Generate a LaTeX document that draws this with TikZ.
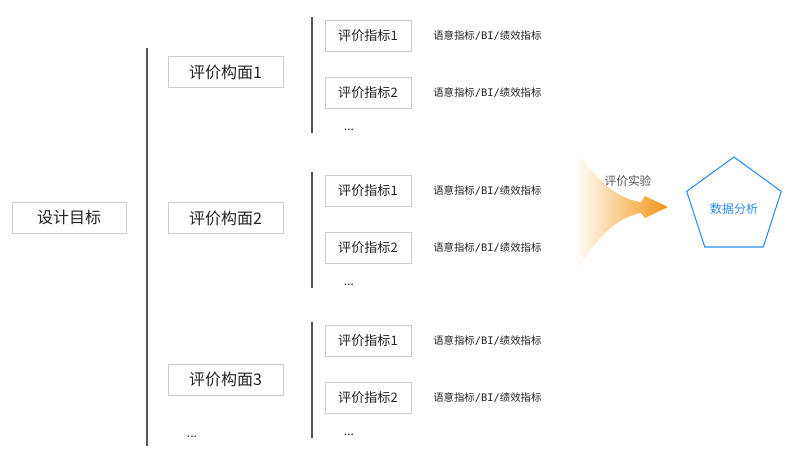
\documentclass[tikz,border=0pt]{standalone}
\usepackage{fontspec}
\setmainfont{Noto Sans CJK SC}
\newfontfamily\monolatin{DejaVu Sans Mono}
\usetikzlibrary{shapes.geometric}
\definecolor{linegray}{RGB}{85,85,85}
\definecolor{boxgray}{RGB}{205,205,205}
\definecolor{textgray}{RGB}{35,35,35}
\definecolor{fanorange}{RGB}{243,148,18}
\definecolor{pentblue}{RGB}{45,140,245}
\newcommand{\notetext}{语意指标{\monolatin /BI/}绩效指标}
\tikzset{
  gbox/.style={draw=boxgray, line width=0.7pt, text=textgray, inner sep=0pt},
  goal/.style={gbox, minimum width=85.5pt, minimum height=23.25pt, font=\fontsize{12}{14}\selectfont},
  facet/.style={gbox, minimum width=86.25pt, minimum height=23.25pt, font=\fontsize{12}{14}\selectfont},
  metric/.style={gbox, minimum width=64.5pt, minimum height=23.25pt, font=\fontsize{9.8}{12}\selectfont},
  note/.style={anchor=west, text=textgray, inner sep=0pt, font=\fontsize{7.8}{9}\selectfont},
  dots/.style={text=textgray, inner sep=0pt, font=\fontsize{9}{10}\selectfont},
  bar/.style={draw=linegray, line width=1pt}
}
\begin{document}
\begin{tikzpicture}[x=0.75pt, y=-0.75pt]
  \useasboundingbox (0,0) rectangle (800,471);

  % 1. 设计目标 与 总括线
  \node[goal] (goal) at (69,217.5) {设计目标};
  \coordinate (gtop) at (147,48);
  \coordinate (gbot) at (147,446);
  \draw[bar] (gtop) -- (gbot);

  % 2. 三个评价构面及其指标
  \foreach \g/\fy/\ly in {1/72/17, 2/218/172, 3/379.5/322} {
    \node[facet] (f\g) at (225.5,\fy) {评价构面\g};
    \coordinate (t\g) at (312,\ly);
    \coordinate (b\g) at (312,\ly+116);
    \draw[bar] (t\g) -- (b\g);
    \node[metric] (m\g-1) at (368,\ly+19) {评价指标1};
    \node[metric] (m\g-2) at (368,\ly+75.5) {评价指标2};
    \node[note] (n\g-1) at (433,\ly+19) {\notetext};
    \node[note] (n\g-2) at (433,\ly+75.5) {\notetext};
    \node[dots] (d\g) at (349,\ly+113) {...};
  }
  \node[dots] (fdots) at (192,437) {...};

  % 3. 评价实验 (渐变箭头)
  \coordinate (tip) at (668,207);
  \shade[left color=white, middle color=fanorange!45, right color=fanorange]
    (575,150) .. controls (598,182) and (618,199) .. (641,202)
    -- (645,196) -- (tip) -- (645,218) -- (641,213)
    .. controls (614,218) and (596,240) .. (575,272) -- cycle;
  \node[text=linegray, font=\fontsize{8.8}{10}\selectfont] (exp) at (628,181) {评价实验};

  % 4. 数据分析
  \node[regular polygon, regular polygon sides=5, draw=pentblue, line width=0.8pt,
        minimum size=74.6pt, inner sep=0pt] (ana) at (734,206.75) {};
  \node[text=pentblue, font=\fontsize{9}{10}\selectfont] (anatext) at (734,209) {数据分析};
\end{tikzpicture}
\end{document}
